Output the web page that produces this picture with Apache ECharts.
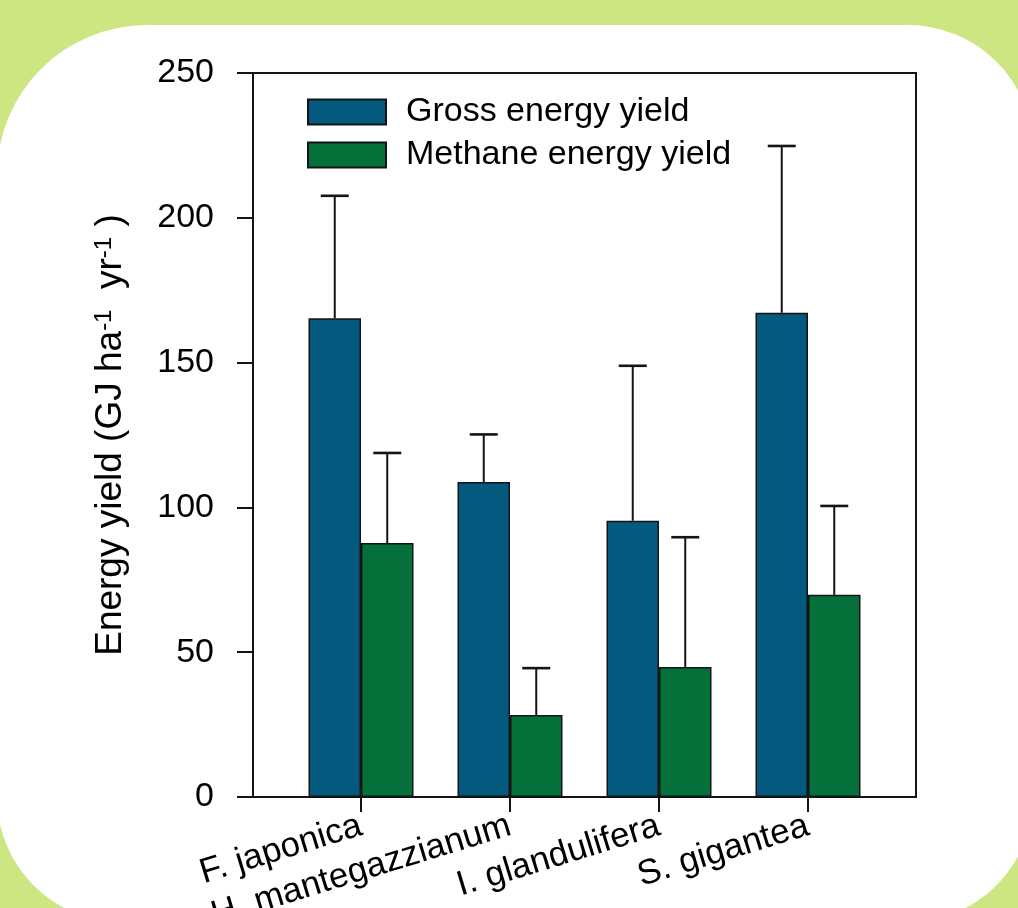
<!DOCTYPE html>
<html><head><meta charset="utf-8">
<script src="https://cdn.jsdelivr.net/npm/echarts@6/dist/echarts.min.js"></script>
<style>html,body{margin:0;padding:0;background:#cde682;} #c{width:1018px;height:908px;}</style>
</head><body><div id="c"></div>
<script>
const categories = ['F. japonica', 'H. mantegazzianum', 'I. glandulifera', 'S. gigantea'];
const grossEnergy = [165.3, 108.8, 95.4, 167.2];
const grossEnergyErr = [42.3, 16.4, 53.5, 57.6];
const methaneEnergy = [87.7, 28.3, 44.9, 69.8];
const methaneEnergyErr = [31.1, 16.2, 44.8, 30.7];
const seriesNames = ['Gross energy yield', 'Methane energy yield'];
const yMin = 0, yMax = 250, yStep = 50;

const FONT = 'Liberation Sans, Arial, sans-serif';
const INK = '#141414';
const BAR_W = 52.5;

function errSeries(vals, errs, offset) {
  return {
    type: 'custom', xAxisIndex: 1, yAxisIndex: 1, z: 5, silent: true,
    encode: { x: 0, y: [1, 2] },
    data: vals.map((v, i) => [i, v, v + errs[i]]),
    renderItem(params, api) {
      const c = api.coord([api.value(0), api.value(1)]);
      const t = api.coord([api.value(0), api.value(2)]);
      const x = c[0] + offset;
      return { type: 'group', children: [
        { type: 'line', shape: { x1: x, y1: c[1], x2: x, y2: t[1] }, style: { stroke: INK, lineWidth: 2 } },
        { type: 'line', shape: { x1: x - 14, y1: t[1], x2: x + 14, y2: t[1] }, style: { stroke: INK, lineWidth: 2.6 } }
      ]};
    }
  };
}

function legendFor(name, top) {
  return {
    orient: 'vertical', left: 307, top: top, padding: 0, itemWidth: 78, itemHeight: 25,
    icon: 'rect', data: [name],
    textStyle: { fontSize: 34, color: '#000', fontFamily: FONT, padding: [0, 0, 0, 15] }
  };
}

const chart = echarts.init(document.getElementById('c'), null, { renderer: 'canvas' });
chart.setOption({
  animation: false,
  backgroundColor: '#cde682',
  graphic: [{ type: 'rect', z: -10, silent: true,
    shape: { x: -3, y: 25, width: 1036, height: 897, r: [150, 125, 125, 125] }, style: { fill: '#ffffff' } }],
  grid: [
    { left: 253, right: 102, top: 73, bottom: 111, show: true, borderColor: INK, borderWidth: 2,
      backgroundColor: 'transparent', outerBoundsMode: 'none', containLabel: false },
    { left: 286.5, right: 135.5, top: 73, bottom: 111, outerBoundsMode: 'none', containLabel: false }
  ],
  legend: [legendFor(seriesNames[0], 95), legendFor(seriesNames[1], 138)],
  xAxis: [
    { gridIndex: 0, type: 'value', min: 0, max: 1,
      axisLine: { show: true, lineStyle: { color: INK, width: 2 } },
      axisTick: { show: false }, axisLabel: { show: false }, splitLine: { show: false } },
    { gridIndex: 1, type: 'category', data: categories,
      axisLine: { show: false },
      axisTick: { show: true, alignWithLabel: true, inside: false, length: 15, lineStyle: { color: INK, width: 2 } },
      axisLabel: { interval: 0, rotate: 17, fontSize: 35, color: '#000', fontFamily: FONT, margin: 28 },
      splitLine: { show: false } }
  ],
  yAxis: [
    { gridIndex: 0, type: 'value', min: yMin, max: yMax, interval: yStep,
      axisLine: { show: true, lineStyle: { color: INK, width: 2 } },
      axisTick: { show: true, inside: false, length: 16, lineStyle: { color: INK, width: 2 } },
      axisLabel: { fontSize: 34, color: '#000', fontFamily: FONT, margin: 39 },
      splitLine: { show: false },
      name: '{a|Energy yield (GJ ha}{s|-1}{a|  yr}{s|-1}{a| )}',
      nameLocation: 'middle', nameGap: 124,
      nameTextStyle: { fontSize: 37, color: '#000', fontFamily: FONT,
        rich: { a: { fontSize: 37, color: '#000', fontFamily: FONT },
                s: { fontSize: 24, color: '#000', fontFamily: FONT, verticalAlign: 'top' } } } },
    { gridIndex: 1, type: 'value', min: yMin, max: yMax, show: false }
  ],
  series: [
    { name: seriesNames[0], type: 'bar', xAxisIndex: 1, yAxisIndex: 1, data: grossEnergy,
      barWidth: BAR_W, barGap: '0%', itemStyle: { color: '#035a7e', borderColor: INK, borderWidth: 1.5 } },
    { name: seriesNames[1], type: 'bar', xAxisIndex: 1, yAxisIndex: 1, data: methaneEnergy,
      barWidth: BAR_W, barGap: '0%', itemStyle: { color: '#05703a', borderColor: INK, borderWidth: 1.5 } },
    errSeries(grossEnergy, grossEnergyErr, -BAR_W / 2),
    errSeries(methaneEnergy, methaneEnergyErr, BAR_W / 2)
  ]
});
</script></body></html>
